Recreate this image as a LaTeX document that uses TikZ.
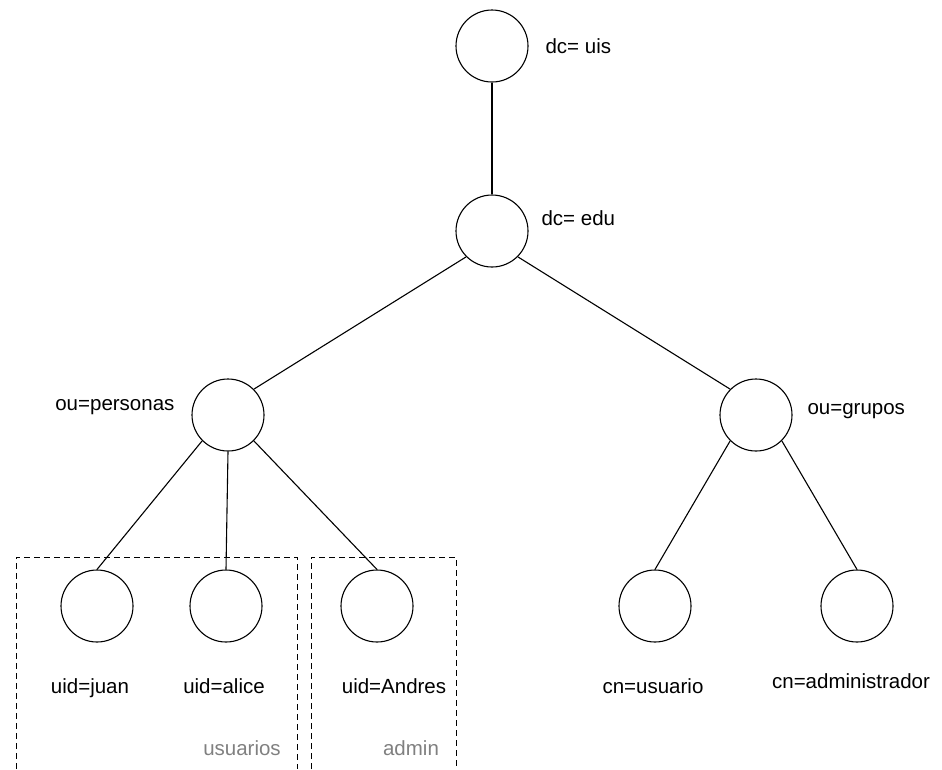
\documentclass[tikz,border=0pt]{standalone}
\usepackage{fontspec}
\setmainfont{Liberation Sans}
\usepackage{tikz}
\usetikzlibrary{positioning}

\begin{document}
\begin{tikzpicture}[x=1pt,y=-1pt,line width=1.1pt,
    ent/.style={circle,draw,minimum size=72pt,inner sep=0pt},
    lbl/.style={inner sep=0pt,font=\fontsize{20.5}{24}\selectfont},
    grp/.style={lbl,text=black!50},
    grpbox/.style={dashed,line width=0.9pt,dash pattern=on 6pt off 4pt}]
\useasboundingbox (0,0) rectangle (942,769);
% entries of the directory
\node[ent] (uis) at (492,46) {};
\node[ent] (edu) at (492,231) {};
\node[ent] (personas) at (228,415) {};
\node[ent] (grupos) at (756,415) {};
\node[ent] (juan) at (97,606) {};
\node[ent] (alice) at (226,606) {};
\node[ent] (andres) at (377,606) {};
\node[ent] (usuario) at (655,606) {};
\node[ent] (administrador) at (857,606) {};
% names
\node[lbl,anchor=base west] (uislbl) at (545,53) {dc= uis};
\node[lbl,anchor=base west] (edulbl) at (541,225) {dc= edu};
\node[lbl,anchor=base east] (personaslbl) at (175,410) {ou=personas};
\node[lbl,anchor=base west] (gruposlbl) at (807,414) {ou=grupos};
\node[lbl,anchor=base] (juanlbl) at (90,693) {uid=juan};
\node[lbl,anchor=base] (alicelbl) at (224,693) {uid=alice};
\node[lbl,anchor=base] (andreslbl) at (394,693) {uid=Andres};
\node[lbl,anchor=base] (usuariolbl) at (653,693) {cn=usuario};
\node[lbl,anchor=base] (administradorlbl) at (851,688) {cn=administrador};
% links
\draw (uis.south) -- (edu.north);
\draw (edu.south west) -- (personas.north east);
\draw (edu.south east) -- (grupos.north west);
\draw (personas.south west) -- (juan.north);
\draw (personas.south) -- (alice.north);
\draw (personas.south east) -- (andres.north);
\draw (grupos.south west) -- (usuario.north);
\draw (grupos.south east) -- (administrador.north);
% groups
\draw[grpbox] (16,769) |- (297,557) -- (297,769);
\draw[grpbox] (311,769) |- (456,557) -- (456,769);
\node[grp,anchor=base] (usuarios) at (242,755) {usuarios};
\node[grp,anchor=base] (admin) at (411,755) {admin};
\end{tikzpicture}
\end{document}
